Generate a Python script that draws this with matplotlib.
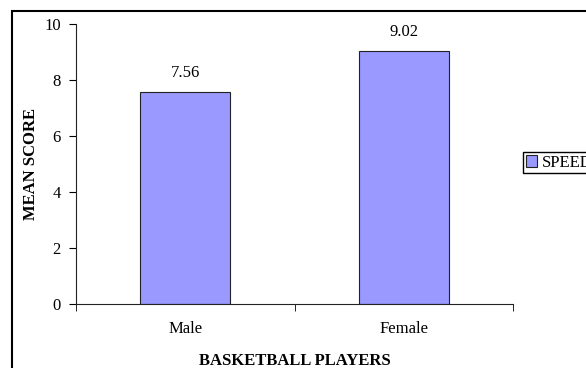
import numpy as np
import matplotlib.pyplot as plt
from matplotlib.patches import Rectangle

# data
groups = ['Male', 'Female']
speed = [7.56, 9.02]

plt.rcParams['font.family'] = ['Liberation Serif', 'DejaVu Serif']

fig = plt.figure(figsize=(5.86, 3.68), dpi=100)
W, H = 586, 368
ax = fig.add_axes([76 / W, 1 - 304 / H, (513 - 76) / W, (304 - 24) / H])

x = np.arange(len(groups))
bars = ax.bar(x, speed, width=0.41, color='#9999ff', edgecolor='#222222',
              linewidth=0.8, label='SPEED')
for b, v in zip(bars, speed):
    ax.annotate(f'{v:.2f}', (b.get_x() + b.get_width() / 2, v),
                xytext=(0, 8), textcoords='offset points',
                ha='center', va='bottom', fontsize=12)

ax.set_xlim(-0.5, 1.5)
ax.set_ylim(0, 10)
ax.set_yticks(range(0, 11, 2))
ax.set_xticks(x)
ax.set_xticklabels(groups)
ax.set_xticks([-0.5, 0.5, 1.5], minor=True)
ax.tick_params(axis='x', which='major', length=0, pad=12, labelsize=12)
ax.tick_params(axis='x', which='minor', length=5, direction='out')
ax.tick_params(axis='y', length=5, direction='out', labelsize=12, pad=6)
for s in ['top', 'right']:
    ax.spines[s].set_visible(False)
ax.spines['left'].set_color('#222222')
ax.spines['bottom'].set_color('#222222')

ax.set_ylabel('MEAN SCORE', fontweight='bold', fontsize=12, labelpad=4)
ax.set_xlabel('BASKETBALL PLAYERS', fontweight='bold', fontsize=12, labelpad=12)

fig.legend(handles=[bars], labels=['SPEED'], loc='upper left',
           bbox_to_anchor=(523 / W, 1 - 152 / H), fancybox=False,
           edgecolor='black', framealpha=1, fontsize=12, handlelength=0.7,
           handleheight=0.7, handletextpad=0.3, borderpad=0.15,
           borderaxespad=0)

# outer chart border
fig.patches.append(Rectangle((12 / W, -0.1), 1, 1 - 11 / H + 0.1,
                             transform=fig.transFigure, fill=False,
                             edgecolor='black', linewidth=1.5))

fig.savefig('out.png', dpi=100)
